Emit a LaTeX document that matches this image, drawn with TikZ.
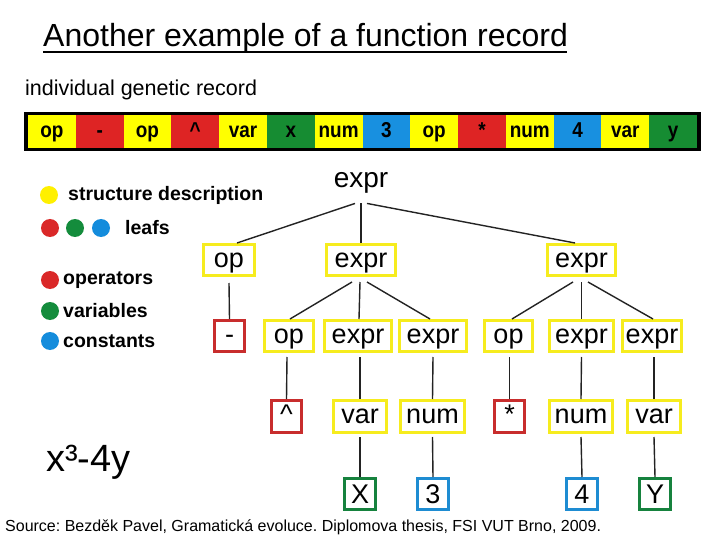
\documentclass[tikz,border=0pt]{standalone}
\usepackage{fontspec}
\setmainfont{Liberation Sans}
\newfontfamily\barfont[FakeStretch=0.88]{Liberation Sans Bold}
\frenchspacing
\begin{document}
\begin{tikzpicture}[x=1pt,y=-1pt,
  lin/.style={draw={rgb,255:red,35;green,35;blue,35}, line width=1.4pt},
  bx/.style={draw, line width=3pt, fill=white, inner sep=0pt, minimum height=31pt, text height=14pt, text depth=0pt, font=\fontsize{27}{30}\selectfont},
  capbx/.style={text height=19.3pt},
  ybx/.style={bx, draw={rgb,255:red,246;green,236;blue,30}},
  rbx/.style={bx, draw={rgb,255:red,200;green,45;blue,45}},
  gbx/.style={bx, capbx, draw={rgb,255:red,22;green,130;blue,62}},
  bbx/.style={bx, capbx, draw={rgb,255:red,30;green,140;blue,210}},
  cell/.style={inner sep=0pt, minimum width=47.79pt, minimum height=32.5pt, text height=12.6pt, text depth=0pt, font=\fontsize{21.5}{24}\barfont},
  lgd/.style={anchor=west, inner sep=0pt, font=\fontsize{19.5}{22}\selectfont\bfseries},
  dot/.style={circle, inner sep=0pt, minimum size=18pt}
]
\definecolor{byel}{RGB}{255,255,0}
\definecolor{bred}{RGB}{222,36,36}
\definecolor{bgrn}{RGB}{22,140,50}
\definecolor{bblu}{RGB}{24,144,224}
\definecolor{cyel}{RGB}{255,240,0}
\definecolor{cred}{RGB}{218,40,40}
\definecolor{cgrn}{RGB}{20,140,60}
\definecolor{cblu}{RGB}{20,140,220}
\useasboundingbox (0,0) rectangle (720,540);
\fill[white] (0,0) rectangle (720,540);

% title
\node[anchor=base west, inner sep=0pt, font=\fontsize{32}{36}\selectfont] (title) at (43,47) {Another example of a function record};
\draw[line width=2.4pt] (title.base west) ++(0,5) -- ++(524,0);

\node[anchor=west, inner sep=0pt, font=\fontsize{21.5}{24}\selectfont] (sub) at (25,90) {individual genetic record};

% genetic record bar
\fill[black] (24,112) rectangle (701,151);
\foreach \t/\c [count=\i] in {op/byel,-/bred,op/byel,{\textasciicircum}/bred,var/byel,x/bgrn,num/byel,3/bblu,op/byel,*/bred,num/byel,4/bblu,var/byel,y/bgrn}{
  \node[cell, fill=\c] (bar\i) at ({28+47.79*(\i-0.5)},131.7) {\t};
}

% legend
\node[dot, fill=cyel] (dy) at (49,195) {};
\node[lgd] (ls) at (68,195) {structure description};
\node[dot, fill=cred] (d1) at (50,228) {};
\node[dot, fill=cgrn] (d2) at (75,228) {};
\node[dot, fill=cblu] (d3) at (101,228) {};
\node[lgd] (ll) at (125,228) {leafs};
\node[dot, fill=cred] (dr) at (50,280) {};
\node[lgd] (lo) at (63,280) {operators};
\node[dot, fill=cgrn] (dg) at (50,311) {};
\node[lgd] (lv) at (63,311) {variables};
\node[dot, fill=cblu] (db) at (50,341) {};
\node[lgd] (lc) at (63,341) {constants};

% tree
\node[inner sep=0pt, outer ysep=10pt, font=\fontsize{28}{30}\selectfont] (root) at (361,183) {expr};

\node[ybx, minimum width=51pt] (op1) at (229,260) {op};
\node[ybx, minimum width=69pt] (e1) at (361,260) {expr};
\node[ybx, minimum width=68pt] (e2) at (581.5,260) {expr};

\node[rbx, minimum width=30pt] (minus) at (229.5,336) {-};
\node[ybx, minimum width=49pt] (op2) at (289,336) {op};
\node[ybx, minimum width=67pt] (e3) at (358,336) {expr};
\node[ybx, minimum width=67pt] (e4) at (433,336) {expr};
\node[ybx, minimum width=48pt] (op3) at (508.5,336) {op};
\node[ybx, minimum width=64pt] (e5) at (581.5,336) {expr};
\node[ybx, minimum width=59pt] (e6) at (652,336) {expr};

\node[rbx, minimum width=30pt, minimum height=32pt] (caret) at (286.5,416.5) {\textasciicircum};
\node[ybx, minimum width=53pt, minimum height=32pt] (v1) at (360,416.5) {var};
\node[ybx, minimum width=64pt, minimum height=32pt] (n1) at (432.5,416.5) {num};
\node[rbx, minimum width=30pt, minimum height=32pt] (star) at (509.5,416.5) {*};
\node[ybx, minimum width=63pt, minimum height=32pt] (n2) at (581,416.5) {num};
\node[ybx, minimum width=53pt, minimum height=32pt] (v2) at (654,416.5) {var};

\node[gbx, minimum width=31pt] (X) at (360,494) {X};
\node[bbx, minimum width=31pt] (three) at (433,494) {3};
\node[bbx, minimum width=31pt] (four) at (582,494) {4};
\node[gbx, minimum width=31pt] (Y) at (655,494) {Y};

% connectors
\draw[lin] ([xshift=-6pt]root.south) -- ([xshift=8pt]op1.north);
\draw[lin] (root.south) -- (e1.north);
\draw[lin] ([xshift=6pt]root.south) -- ([xshift=-6.5pt]e2.north);

\draw[lin] ([yshift=-6pt]op1.south) -- (minus.north);
\draw[lin] ([xshift=-9pt,yshift=-5pt]e1.south) -- ([xshift=1pt]op2.north);
\draw[lin] ([xshift=-1pt,yshift=-5pt]e1.south) -- ([xshift=1pt]e3.north);
\draw[lin] ([xshift=6pt,yshift=-5pt]e1.south) -- ([xshift=-3pt]e4.north);
\draw[lin] ([xshift=-8.5pt,yshift=-5pt]e2.south) -- ([xshift=3.5pt]op3.north);
\draw[lin] ([yshift=-5pt]e2.south) -- (e5.north);
\draw[lin] ([xshift=6.5pt,yshift=-5pt]e2.south) -- ([xshift=1pt]e6.north);

\draw[lin] ([xshift=-2pt,yshift=-4pt]op2.south) -- (caret.north);
\draw[lin] ([xshift=2pt,yshift=-4pt]e3.south) -- (v1.north);
\draw[lin] ([yshift=-4pt]e4.south) -- (n1.north);
\draw[lin] ([xshift=1pt,yshift=-4pt]op3.south) -- (star.north);
\draw[lin] ([yshift=-4pt]e5.south) -- (n2.north);
\draw[lin] ([xshift=2pt,yshift=-4pt]e6.south) -- (v2.north);

\draw[lin] ([yshift=-3pt]v1.south) -- (X.north);
\draw[lin] ([yshift=-3pt]n1.south) -- (three.north);
\draw[lin] ([yshift=-3pt]n2.south) -- (four.north);
\draw[lin] ([yshift=-3pt]v2.south) -- (Y.north);

% formula and source
\node[anchor=west, inner sep=0pt, font=\fontsize{38}{40}\selectfont] (formula) at (46,462) {x³-4y};
\node[anchor=west, inner sep=0pt, font=\fontsize{16}{18}\selectfont] (src) at (5,527) {Source: Bezděk Pavel, Gramatická evoluce. Diplomova thesis, FSI VUT Brno, 2009.};
\end{tikzpicture}
\end{document}
